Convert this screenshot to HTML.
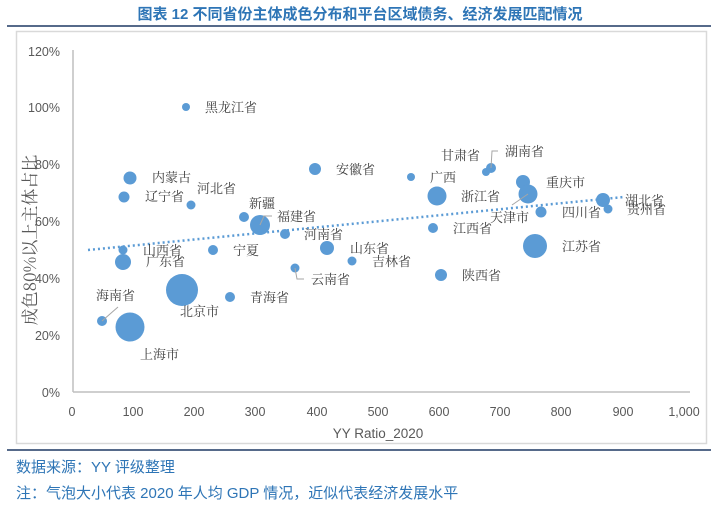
<!DOCTYPE html>
<html><head><meta charset="utf-8"><style>
body{margin:0;width:718px;height:512px;background:#fff;overflow:hidden}
</style></head><body>
<svg width="718" height="512" xmlns="http://www.w3.org/2000/svg" style="position:absolute;left:0;top:0">
<text x="360" y="19" text-anchor="middle" font-family="Liberation Sans,'Noto Sans CJK SC',sans-serif" font-weight="bold" font-size="15" fill="#2e75b6">图表  12  不同省份主体成色分布和平台区域债务、经济发展匹配情况</text>
<line x1="7" y1="26" x2="711" y2="26" stroke="#1f3864" stroke-width="1.5"/>
<rect x="16.5" y="31.5" width="690" height="412" fill="none" stroke="#d9d9d9" stroke-width="1.5"/>
<line x1="73" y1="50" x2="73" y2="392" stroke="#bfbfbf" stroke-width="1.5"/>
<line x1="73" y1="392" x2="690" y2="392" stroke="#bfbfbf" stroke-width="1.5"/>
<g font-family="Liberation Sans,sans-serif" font-size="12.5" fill="#595959" text-anchor="end">
<text x="60" y="56">120%</text><text x="60" y="112">100%</text><text x="60" y="169">80%</text><text x="60" y="226">60%</text><text x="60" y="283">40%</text><text x="60" y="340">20%</text><text x="60" y="397">0%</text>
</g>
<g font-family="Liberation Sans,sans-serif" font-size="12.5" fill="#595959" text-anchor="middle">
<text x="72" y="416">0</text><text x="133" y="416">100</text><text x="194" y="416">200</text><text x="255" y="416">300</text><text x="317" y="416">400</text><text x="378" y="416">500</text><text x="439" y="416">600</text><text x="500" y="416">700</text><text x="561" y="416">800</text><text x="623" y="416">900</text><text x="684" y="416">1,000</text>
<text x="378" y="438" font-size="13.5">YY Ratio_2020</text>
</g>
<text transform="translate(36,240) rotate(-90)" text-anchor="middle" font-family="'Noto Serif CJK SC',serif" font-size="17" fill="#595959">成色80%以上主体占比</text>
<line x1="88" y1="250" x2="624" y2="197" stroke="#5b9bd5" stroke-width="2.5" stroke-dasharray="2,3"/>
<g fill="#5b9bd5">
<circle cx="186" cy="107" r="4"/><circle cx="315" cy="169" r="6"/><circle cx="130" cy="178" r="6.5"/><circle cx="124" cy="197" r="5.5"/><circle cx="191" cy="205" r="4.5"/><circle cx="244" cy="217" r="5"/><circle cx="260" cy="225" r="10"/><circle cx="285" cy="234" r="5"/><circle cx="123" cy="250" r="4.5"/><circle cx="123" cy="262" r="8"/><circle cx="213" cy="250" r="5"/><circle cx="327" cy="248" r="7"/><circle cx="352" cy="261" r="4.5"/><circle cx="295" cy="268" r="4.5"/><circle cx="182" cy="290" r="16"/><circle cx="230" cy="297" r="5"/><circle cx="102" cy="321" r="5"/><circle cx="130" cy="327" r="14.5"/>
<circle cx="411" cy="177" r="4"/><circle cx="486" cy="172" r="4"/><circle cx="491" cy="168" r="5"/><circle cx="437" cy="196" r="9.5"/><circle cx="523" cy="182" r="7"/><circle cx="528" cy="194" r="9.5"/><circle cx="541" cy="212" r="5.5"/><circle cx="603" cy="200" r="7"/><circle cx="608" cy="209" r="4.5"/><circle cx="433" cy="228" r="5"/><circle cx="535" cy="246" r="12"/><circle cx="441" cy="275" r="6"/>
</g>
<g stroke="#a6a6a6" fill="none" stroke-width="1">
<polyline points="260,225 264,216 272,216"/><polyline points="295,268 297,279 304,279"/><polyline points="102,321 118,307"/><polyline points="491,168 492,151 498,151"/><polyline points="528,194 512,205"/>
</g>
<g font-family="'Noto Serif CJK SC',serif" font-size="13" fill="#404040">
<text x="205" y="112">黑龙江省</text><text x="336" y="174">安徽省</text><text x="152" y="182">内蒙古</text><text x="145" y="201">辽宁省</text><text x="197" y="193">河北省</text><text x="249" y="208">新疆</text><text x="277" y="221">福建省</text><text x="304" y="239">河南省</text><text x="143" y="255">山西省</text><text x="146" y="266">广东省</text><text x="233" y="255">宁夏</text><text x="350" y="253">山东省</text><text x="372" y="266">吉林省</text><text x="311" y="284">云南省</text><text x="180" y="316">北京市</text><text x="250" y="302">青海省</text><text x="96" y="300">海南省</text><text x="140" y="359">上海市</text>
<text x="430" y="182">广西</text><text x="441" y="160">甘肃省</text><text x="505" y="156">湖南省</text><text x="461" y="201">浙江省</text><text x="546" y="187">重庆市</text><text x="490" y="222">天津市</text><text x="562" y="217">四川省</text><text x="625" y="205">湖北省</text><text x="627" y="214">贵州省</text><text x="453" y="233">江西省</text><text x="562" y="251">江苏省</text><text x="462" y="280">陕西省</text>
</g>
<line x1="7" y1="450" x2="711" y2="450" stroke="#1f3864" stroke-width="1.5"/>
<g font-family="Liberation Sans,'Noto Sans CJK SC',sans-serif" font-size="15" fill="#2e75b6">
<text x="16" y="472">数据来源：YY 评级整理</text>
<text x="16" y="498">注：气泡大小代表 2020 年人均 GDP 情况，近似代表经济发展水平</text>
</g>
</svg>
</body></html>
